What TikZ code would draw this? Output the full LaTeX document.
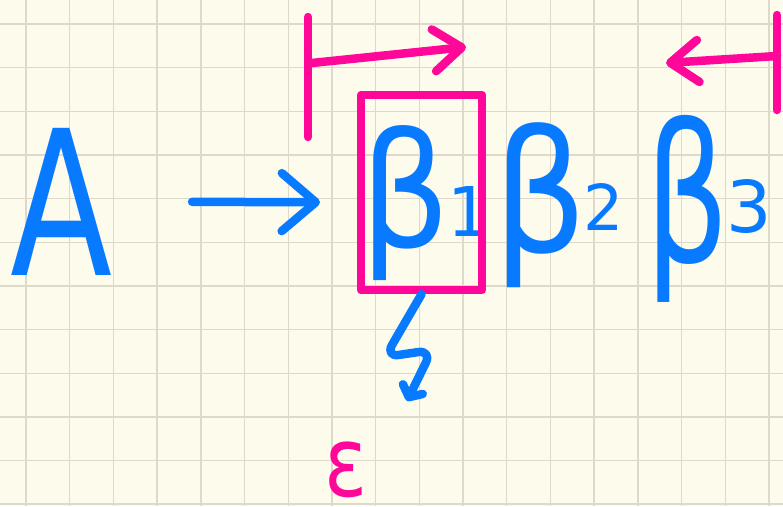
\documentclass[tikz,border=0pt]{standalone}
\usepackage{fontspec}
\setmainfont{DejaVu Sans}
\usepackage{graphicx}
\usetikzlibrary{arrows.meta}
\definecolor{inkblue}{RGB}{8,122,255}
\definecolor{inkpink}{RGB}{255,8,154}
\definecolor{paper}{RGB}{253,251,236}
\definecolor{gridc}{RGB}{221,217,203}
\newcommand{\mybeta}[6]{\resizebox*{#1}{#2}{β}\kern#3\raisebox{#4}{\resizebox*{!}{#5}{#6}}}
\tikzset{
  txt/.style={inner sep=0pt, outer sep=0pt, text=inkblue},
  bluestroke/.style={draw=inkblue, line width=8.5pt, line cap=round, line join=round},
  pinkstroke/.style={draw=inkpink, line width=8.5pt, line cap=round, line join=round},
  gridline/.style={draw=gridc, line width=1.4pt},
  bigbarb/.style={-{Straight Barb[length=34pt,width=58pt,round]}},
  midbarb/.style={-{Straight Barb[length=28pt,width=42pt,round]}},
  smallbarb/.style={-{Straight Barb[length=9pt,width=22pt,round]}}
}
\begin{document}
\begin{tikzpicture}[x=1pt,y=-1pt]
\useasboundingbox (0,0) rectangle (783,506);
\fill[paper] (0,0) rectangle (783,506);
\foreach \k in {0,...,17} \draw[gridline] ({26+43.7*\k},0) -- ({26+43.7*\k},506);
\foreach \k in {0,...,11} \draw[gridline] (0,{24+43.65*\k}) -- (783,{24+43.65*\k});

% texts
\node[txt, anchor=base west] (A) at (10,275) {\resizebox{102pt}{147pt}{A}};
\node[txt, anchor=base west] (b1) at (360,247) {\mybeta{90pt}{155pt}{-3pt}{11pt}{50pt}{1}};
\node[txt, anchor=base west] (b2) at (493,252) {\mybeta{94pt}{165pt}{-4pt}{22pt}{47pt}{2}};
\node[txt, anchor=base west] (b3) at (645,262) {\mybeta{84pt}{187pt}{-3pt}{30pt}{54pt}{3}};
\node[txt, text=inkpink, anchor=south west] (eps) at (324,498) {\resizebox*{43pt}{56pt}{ε}};

% arrow A -> beta1
\draw[bluestroke, bigbarb, shorten <=80pt, shorten >=40pt] (A) -- (b1);

% pink box around beta1
\node[pinkstroke, draw, minimum width=121pt, minimum height=195pt, inner sep=0pt] (box) at (421.5,192.5) {};

% squiggle from box downwards
\coordinate (sq1) at (385,357);
\coordinate (sq2) at (432,350);
\coordinate (sqend) at (407,401);
\draw[bluestroke, smallbarb, rounded corners=14pt] (box.south) -- (sq1) -- (sq2) -- (sqend);

% pink range arrows
\coordinate (tl1) at (308,17);
\coordinate (tl2) at (308,137);
\coordinate (ta1) at (312,63);
\coordinate (ta2) at (466,47);
\draw[pinkstroke] (tl1) -- (tl2);
\draw[pinkstroke, midbarb] (ta1) -- (ta2);

\coordinate (rl1) at (777,15);
\coordinate (rl2) at (777,110);
\coordinate (ra1) at (777,56);
\coordinate (ra2) at (666,63);
\draw[pinkstroke] (rl1) -- (rl2);
\draw[pinkstroke, midbarb] (ra1) -- (ra2);
\end{tikzpicture}
\end{document}
